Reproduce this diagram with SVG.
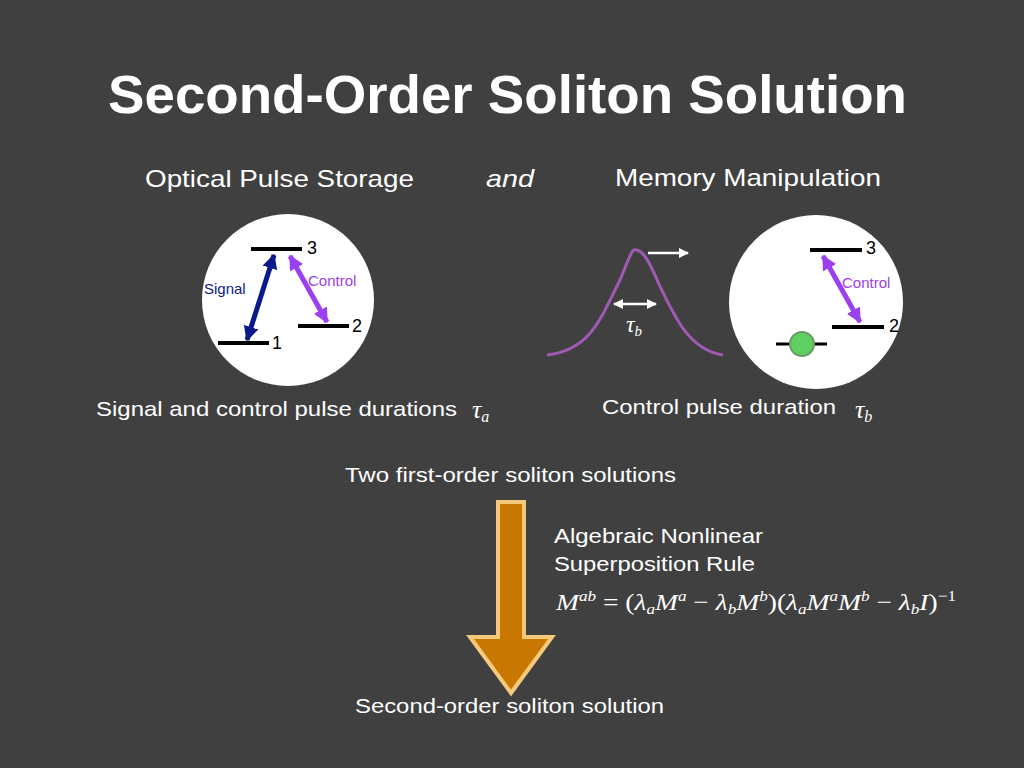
<svg xmlns="http://www.w3.org/2000/svg" width="1024" height="768" viewBox="0 0 1024 768">
<defs>
<style>
.t{font-family:"Liberation Sans",Arial,sans-serif;fill:#fff}
.k{font-family:"Liberation Sans",Arial,sans-serif;fill:#000}
.m{font-family:"Liberation Serif","Times New Roman",serif;font-style:italic;fill:#fff}
.lv{stroke:#000;stroke-width:4}
</style>
<marker id="wa" viewBox="0 0 10 10" refX="9" refY="5" markerWidth="4" markerHeight="4" orient="auto-start-reverse"><path d="M0,0L10,5L0,10z" fill="#fff"/></marker>
<marker id="ba" viewBox="0 0 10 10" refX="9" refY="5" markerWidth="3" markerHeight="3" orient="auto-start-reverse"><path d="M0,0L10,5L0,10z" fill="#0a1a8c"/></marker>
<marker id="pa" viewBox="0 0 10 10" refX="9" refY="5" markerWidth="3" markerHeight="3" orient="auto-start-reverse"><path d="M0,0L10,5L0,10z" fill="#9b40f0"/></marker>
</defs>
<rect width="1024" height="768" fill="#404040"/>
<text x="108" y="113" class="t" font-size="54" font-weight="bold" textLength="799" lengthAdjust="spacingAndGlyphs">Second-Order Soliton Solution</text>
<text x="145" y="187" class="t" font-size="24" textLength="269" lengthAdjust="spacingAndGlyphs">Optical Pulse Storage</text>
<text x="486" y="187" class="t" font-size="24" font-style="italic" textLength="48" lengthAdjust="spacingAndGlyphs">and</text>
<text x="615" y="186" class="t" font-size="24" textLength="266" lengthAdjust="spacingAndGlyphs">Memory Manipulation</text>
<g id="atom-a">
<circle cx="288" cy="300" r="86" fill="#fff"/>
<line class="lv" x1="251" y1="249" x2="302" y2="249"/>
<line class="lv" x1="298" y1="326" x2="349" y2="326"/>
<line class="lv" x1="218" y1="343" x2="269" y2="343"/>
<line x1="247" y1="340" x2="274" y2="255" stroke="#0a1a8c" stroke-width="5" marker-start="url(#ba)" marker-end="url(#ba)"/>
<line x1="290" y1="256" x2="327" y2="322" stroke="#9b40f0" stroke-width="5" marker-start="url(#pa)" marker-end="url(#pa)"/>
<text x="307" y="254" class="k" font-size="18">3</text>
<text x="352" y="332" class="k" font-size="18">2</text>
<text x="272" y="349" class="k" font-size="18">1</text>
<text x="204" y="294" font-family="Liberation Sans,Arial,sans-serif" font-size="15" fill="#0a1a8c">Signal</text>
<text x="308" y="286" font-family="Liberation Sans,Arial,sans-serif" font-size="15" fill="#9b40f0">Control</text>
</g>
<g id="pulse">
<path d="M547,355 C590,350 600,320 620,280 C630,256 632,248 636,250 C642,250 648,258 658,282 C676,320 690,350 723,355" fill="none" stroke="#a05ab4" stroke-width="3"/>
<line x1="648" y1="253" x2="688" y2="253" stroke="#fff" stroke-width="2.5" marker-end="url(#wa)"/>
<line x1="614" y1="304" x2="656" y2="304" stroke="#fff" stroke-width="2.5" marker-start="url(#wa)" marker-end="url(#wa)"/>
<text x="626" y="332" class="m" font-size="24">τ<tspan font-size="15" dy="4">b</tspan></text>
</g>
<g id="atom-b">
<circle cx="816" cy="302" r="87" fill="#fff"/>
<line class="lv" x1="810" y1="250" x2="862" y2="250"/>
<line class="lv" x1="832" y1="327" x2="884" y2="327"/>
<line x1="776" y1="344" x2="827" y2="344" stroke="#000" stroke-width="3"/>
<circle cx="802" cy="344" r="12" fill="#5fd060" stroke="#6a9a6a" stroke-width="2"/>
<line x1="823" y1="256" x2="860" y2="322" stroke="#9b40f0" stroke-width="5" marker-start="url(#pa)" marker-end="url(#pa)"/>
<text x="866" y="254" class="k" font-size="18">3</text>
<text x="889" y="332" class="k" font-size="18">2</text>
<text x="842" y="288" font-family="Liberation Sans,Arial,sans-serif" font-size="15" fill="#9b40f0">Control</text>
</g>
<text x="96" y="416" class="t" font-size="21" textLength="361" lengthAdjust="spacingAndGlyphs">Signal and control pulse durations</text>
<text x="472" y="418" class="m" font-size="26">τ<tspan font-size="16" dy="4">a</tspan></text>
<text x="602" y="414" class="t" font-size="21" textLength="234" lengthAdjust="spacingAndGlyphs">Control pulse duration</text>
<text x="855" y="418" class="m" font-size="26">τ<tspan font-size="16" dy="4">b</tspan></text>
<text x="345" y="482" class="t" font-size="21" textLength="331" lengthAdjust="spacingAndGlyphs">Two first-order soliton solutions</text>
<g id="big-arrow">
<path d="M498,502 L524,502 L524,637 L552,637 L511,693 L470,637 L498,637 Z" fill="#c87800" stroke="#f5c97a" stroke-width="4"/>
</g>
<text x="554" y="543" class="t" font-size="21" textLength="209" lengthAdjust="spacingAndGlyphs">Algebraic Nonlinear</text>
<text x="554" y="571" class="t" font-size="21" textLength="201" lengthAdjust="spacingAndGlyphs">Superposition Rule</text>
<text x="556" y="610" class="m" font-size="24" textLength="400" lengthAdjust="spacingAndGlyphs">M<tspan font-size="15" dy="-9">ab</tspan><tspan dy="9" font-style="normal"> = (</tspan>λ<tspan font-size="15" dy="4">a</tspan><tspan dy="-4">M</tspan><tspan font-size="15" dy="-9">a</tspan><tspan dy="9" font-style="normal"> − </tspan>λ<tspan font-size="15" dy="4">b</tspan><tspan dy="-4">M</tspan><tspan font-size="15" dy="-9">b</tspan><tspan dy="9" font-style="normal">)(</tspan>λ<tspan font-size="15" dy="4">a</tspan><tspan dy="-4">M</tspan><tspan font-size="15" dy="-9">a</tspan><tspan dy="9">M</tspan><tspan font-size="15" dy="-9">b</tspan><tspan dy="9" font-style="normal"> − </tspan>λ<tspan font-size="15" dy="4">b</tspan><tspan dy="-4">I</tspan><tspan font-style="normal">)</tspan><tspan font-size="15" dy="-9" font-style="normal">−1</tspan></text>
<text x="355" y="713" class="t" font-size="21" textLength="309" lengthAdjust="spacingAndGlyphs">Second-order soliton solution</text>
</svg>
